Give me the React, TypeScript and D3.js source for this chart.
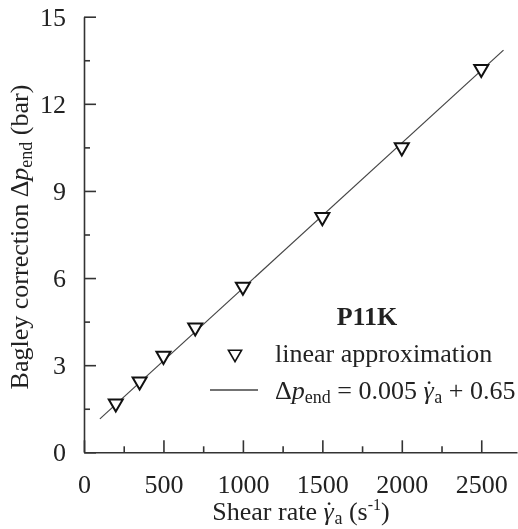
import * as d3 from "d3";
import { useEffect, useRef } from "react";

// data (P11K, Bagley correction vs shear rate)
const shearRate = [200, 350, 500, 700, 1000, 1500, 2000, 2500];
const bagley = [1.68, 2.44, 3.32, 4.3, 5.7, 8.1, 10.5, 13.2];
const fitSlope = 0.005;
const fitIntercept = 0.65;
const fitRange = [100, 2640];
const xMajor = [0, 500, 1000, 1500, 2000, 2500];
const xMinor = [250, 750, 1250, 1750, 2250];
const yMajor = [0, 3, 6, 9, 12, 15];
const yMinor = [1.5, 4.5, 7.5, 10.5, 13.5];

const W = 518;
const H = 529;
const FONT = "'Liberation Serif', 'Times New Roman', serif";

// gamma with a dot on top, built from two glyphs
const GammaDot = () => (
  <>
    <tspan fontStyle="italic">γ</tspan>
    <tspan dx={-9} dy={-1}>˙</tspan>
    <tspan fontSize={18} dx={1} dy={5}>a</tspan>
  </>
);

const App = () => {
  const svgRef = useRef<SVGSVGElement>(null);

  useEffect(() => {
    const svg = d3.select(svgRef.current);
    svg.selectAll("*").remove();

    const x = d3.scaleLinear().domain([0, 2725]).range([84, 517]);
    const y = d3.scaleLinear().domain([0, 15]).range([452.3, 16.7]);

    // axes, ticks pointing inwards
    const gx = svg.append("g").attr("transform", `translate(0,${y(0)})`);
    gx.call(
      d3.axisBottom(x).tickValues(xMajor).tickSize(-12).tickSizeOuter(0).tickPadding(0).tickFormat(d3.format("d"))
    );
    gx.append("g").call(d3.axisBottom(x).tickValues(xMinor).tickSize(-6).tickSizeOuter(0).tickFormat(() => ""))
      .select(".domain").remove();
    gx.selectAll("text").attr("y", 40.7).attr("dy", null);

    const gy = svg.append("g").attr("transform", `translate(${x(0)},0)`);
    gy.call(d3.axisLeft(y).tickValues(yMajor).tickSize(-12).tickSizeOuter(0).tickPadding(18));
    gy.append("g").call(d3.axisLeft(y).tickValues(yMinor).tickSize(-6).tickSizeOuter(0).tickFormat(() => ""))
      .select(".domain").remove();

    svg.selectAll(".domain, .tick line").attr("stroke", "#333").attr("stroke-width", 1.6);
    svg.selectAll(".tick text")
      .attr("font-family", FONT)
      .attr("font-size", 26)
      .attr("fill", "#222");

    // fitted line
    const line = d3.line<number>().x((d) => x(d)).y((d) => y(fitSlope * d + fitIntercept));
    svg.append("path")
      .attr("d", line(fitRange))
      .attr("fill", "none")
      .attr("stroke", "#444")
      .attr("stroke-width", 1.2);

    // markers (down-pointing triangles)
    const tri = d3.symbol().type(d3.symbolTriangle).size(85);
    svg.append("g")
      .selectAll("path")
      .data(shearRate)
      .join("path")
      .attr("d", tri())
      .attr("transform", (d, i) => `translate(${x(d)},${y(bagley[i])}) rotate(180)`)
      .attr("fill", "white")
      .attr("stroke", "#111")
      .attr("stroke-width", 2);

    // legend
    svg.append("path")
      .attr("d", d3.symbol().type(d3.symbolTriangle).size(75)())
      .attr("transform", "translate(235,354) rotate(180)")
      .attr("fill", "white")
      .attr("stroke", "#111")
      .attr("stroke-width", 1.6);
    svg.append("line")
      .attr("x1", 210).attr("x2", 258)
      .attr("y1", 390).attr("y2", 390)
      .attr("stroke", "#444")
      .attr("stroke-width", 1.5);
  }, []);

  return (
    <div style={{ position: "fixed", left: 0, top: 0 }}>
      <svg ref={svgRef} width={W} height={H} style={{ display: "block" }} />
      <svg
        width={W}
        height={H}
        style={{ position: "absolute", left: 0, top: 0, display: "block" }}
        fontFamily={FONT}
        fontSize={26}
        fill="#222"
      >
        <text x={367} y={325} textAnchor="middle" fontWeight="bold">P11K</text>
        <text x={275} y={362}>linear approximation</text>
        <text x={275} y={399}>
          Δ<tspan fontStyle="italic">p</tspan>
          <tspan fontSize={18} dy={4}>end</tspan>
          <tspan dy={-4}> = 0.005 </tspan>
          <GammaDot />
          <tspan dy={-4}> + 0.65</tspan>
        </text>
        <text x={301} y={520} textAnchor="middle">
          Shear rate <GammaDot />
          <tspan dy={-4}> (s</tspan>
          <tspan fontSize={16} dy={-10}>-1</tspan>
          <tspan dy={10}>)</tspan>
        </text>
        <text transform="translate(28,237) rotate(-90)" textAnchor="middle">
          Bagley correction Δ<tspan fontStyle="italic">p</tspan>
          <tspan fontSize={18} dy={4}>end</tspan>
          <tspan dy={-4}> (bar)</tspan>
        </text>
      </svg>
    </div>
  );
};

export default App;
